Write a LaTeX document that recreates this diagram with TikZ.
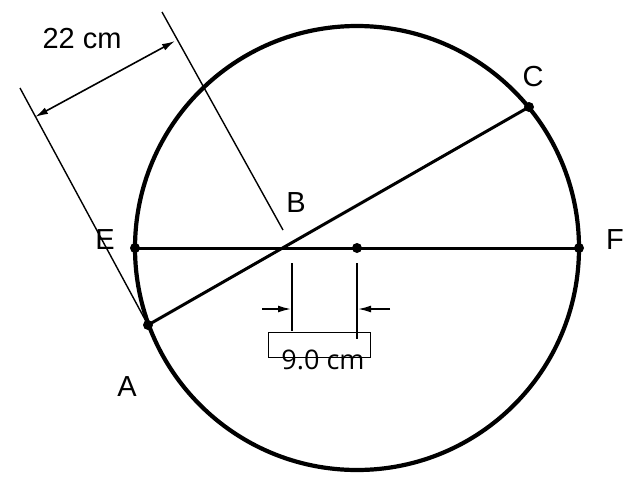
\documentclass[tikz,border=0pt]{standalone}
\usepackage{fontspec}
\setmainfont{Liberation Sans}
\newfontfamily\dimfont{Open Sans}
\usetikzlibrary{arrows.meta}

\begin{document}
\begin{tikzpicture}[
        x=1pt, y=-1pt,
        >={Latex[length=13pt,width=7pt]},
        rim/.style={line width=4.2pt},
        chord/.style={line width=3pt},
        extline/.style={line width=1.4pt},
        dimline/.style={line width=1.6pt},
        dot/.style={circle, fill=black, inner sep=0pt, minimum size=10pt},
        lbl/.style={font=\fontsize{29}{32}\selectfont, inner sep=0pt},
    ]
    \useasboundingbox (0,0) rectangle (632,488);

    % ── Circle and its points ──
    \coordinate (O) at (357,248);
    \coordinate (E) at (135,248);
    \coordinate (F) at (579,248);
    \coordinate (A) at (148,325);
    \coordinate (C) at (529,107);
    \coordinate (B) at (intersection of A--C and E--F);
    \draw[rim] (O) circle (222);

    % ── Chords ──
    \draw[chord] (E) -- (F);
    \draw[chord] (A) -- (C);

    \node[dot] (dotE) at (E) {};
    \node[dot] (dotF) at (F) {};
    \node[dot] (dotO) at (O) {};
    \node[dot] (dotA) at (A) {};
    \node[dot] (dotC) at (C) {};

    % ── Labels ──
    \node[lbl] (labA) at (127,387) {A};
    \node[lbl] (labB) at (296,203) {B};
    \node[lbl] (labC) at (533,77) {C};
    \node[lbl] (labE) at (105,240) {E};
    \node[lbl] (labF) at (615,240) {F};

    % ── 22 cm dimension ──
    \coordinate (extA) at (20,88);
    \coordinate (extB1) at (162,12);
    \coordinate (extB2) at (283,230);
    \coordinate (d1) at (35,117);
    \coordinate (d2) at (175,41);
    \draw[extline] (extA) -- (A);
    \draw[extline] (extB1) -- (extB2);
    \draw[dimline, <->] (d1) -- (d2);
    \node[lbl] (lab22) at (82,39) {22 cm};

    % ── 9.0 cm dimension ──
    \coordinate (eL1) at (292,263);
    \coordinate (eL2) at (292,331);
    \coordinate (eR1) at (357,263);
    \coordinate (eR2) at (357,339);
    \coordinate (aL) at (262,309);
    \coordinate (aLt) at (291,309);
    \coordinate (aR) at (390,309);
    \coordinate (aRt) at (358,309);
    \draw[extline, line width=1.8pt] (eL1) -- (eL2);
    \draw[extline, line width=1.8pt] (eR1) -- (eR2);
    \draw[dimline, ->] (aL) -- (aLt);
    \draw[dimline, ->] (aR) -- (aRt);
    \node[draw, line width=1pt, minimum width=102pt, minimum height=25pt, inner sep=0pt] (dimbox) at (319,344.5) {};
    \node[font=\dimfont\fontsize{27}{30}\selectfont, inner sep=0pt] (dimtxt) at (323,359.5) {9.0 cm};

\end{tikzpicture}
\end{document}
